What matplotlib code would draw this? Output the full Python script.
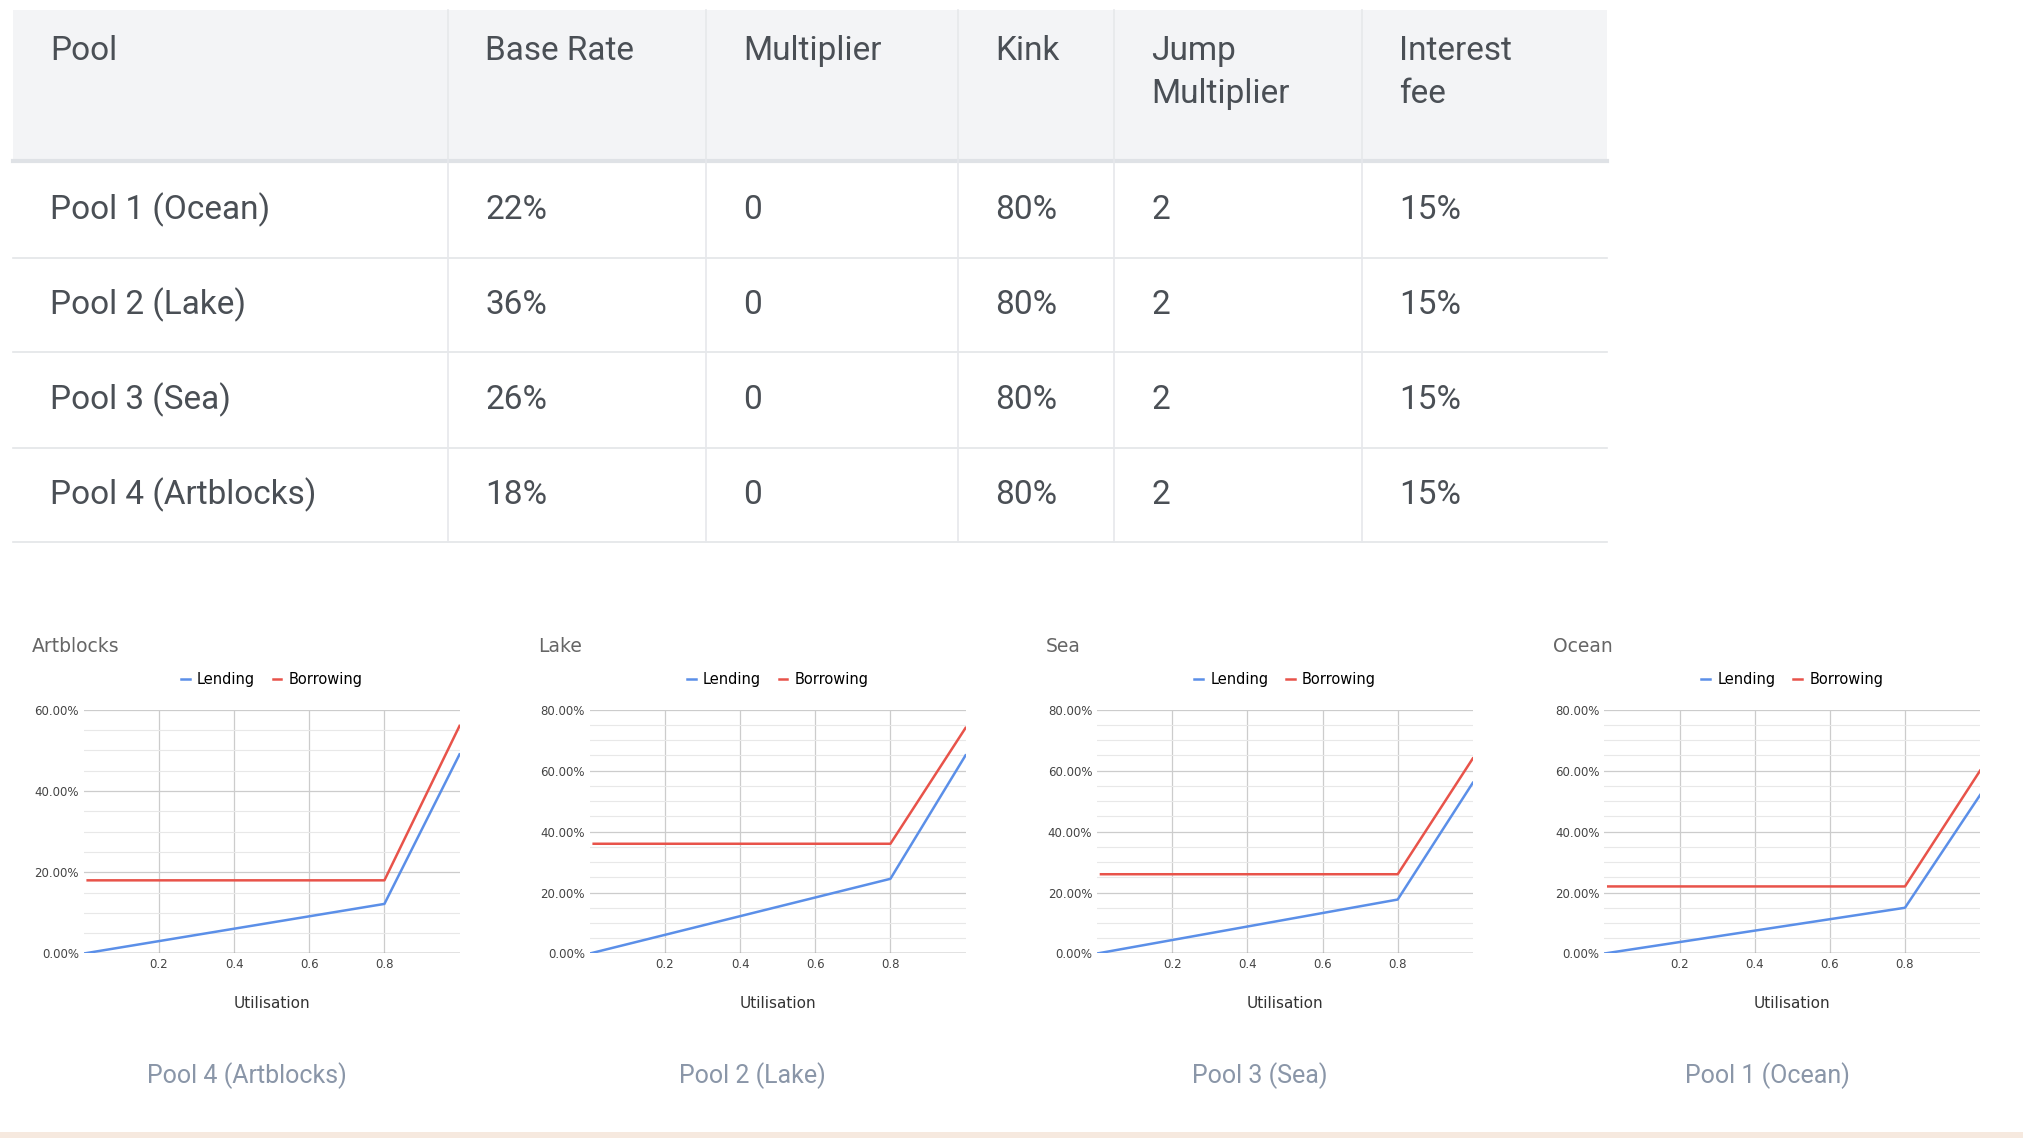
import matplotlib
matplotlib.use("Agg")
import matplotlib.pyplot as plt
from matplotlib.patches import Rectangle
from matplotlib.ticker import MultipleLocator, FuncFormatter

header = ["Pool", "Base Rate", "Multiplier", "Kink", "Jump\nMultiplier", "Interest\nfee"]
rows = [
    ["Pool 1 (Ocean)", "22%", "0", "80%", "2", "15%"],
    ["Pool 2 (Lake)", "36%", "0", "80%", "2", "15%"],
    ["Pool 3 (Sea)", "26%", "0", "80%", "2", "15%"],
    ["Pool 4 (Artblocks)", "18%", "0", "80%", "2", "15%"],
]

chart_titles = ["Artblocks", "Lake", "Sea", "Ocean"]
captions = ["Pool 4 (Artblocks)", "Pool 2 (Lake)", "Pool 3 (Sea)", "Pool 1 (Ocean)"]
util = [0.01, 0.8, 1.0]
lending = [[0, 12.2, 49], [0, 24.5, 65], [0, 17.7, 56], [0, 15, 52]]
borrowing = [[18, 18, 56], [36, 36, 74], [26, 26, 64], [22, 22, 60]]
ymax = [60, 80, 80, 80]

W, H = 1568.0, 882.0
fig = plt.figure(figsize=(20.24, 11.38), dpi=100)
fig.patch.set_facecolor("white")

def fx(px): return px / W
def fy(py): return 1 - py / H

# table
colx = [10, 347, 547, 742, 863, 1055, 1245]
rowy = [8, 125, 200, 273, 347, 420]
fig.add_artist(Rectangle((fx(10), fy(125)), fx(1245) - fx(10), fy(8) - fy(125),
                         transform=fig.transFigure, facecolor="#f3f4f6", edgecolor="none"))
fig.add_artist(plt.Line2D([fx(10), fx(1245)], [fy(125)] * 2, transform=fig.transFigure, color="#dfe2e6", lw=3))
for y in rowy[2:]:
    fig.add_artist(plt.Line2D([fx(10), fx(1245)], [fy(y)] * 2, transform=fig.transFigure, color="#e3e5e8", lw=1.2))
for x in colx[1:-1]:
    fig.add_artist(plt.Line2D([fx(x)] * 2, [fy(8), fy(420)], transform=fig.transFigure, color="#e6e8eb", lw=1.2))
tc = "#4a4f55"
for i, h in enumerate(header):
    fig.text(fx(colx[i] + 29), fy(27), h, ha="left", va="top", fontsize=24, color=tc,
             family="Roboto", linespacing=1.45)
for r, row in enumerate(rows):
    yc = (rowy[r + 1] + rowy[r + 2]) / 2
    for i, v in enumerate(row):
        fig.text(fx(colx[i] + 29), fy(yc), v, ha="left", va="center", fontsize=24, color=tc, family="Roboto")

# charts
axx = [65, 457, 850, 1243]
for k in range(4):
    x0 = axx[k]
    ax = fig.add_axes([fx(x0), fy(739), fx(291), fy(550) - fy(739)])
    ax.plot(util, borrowing[k], color="#e8534a", lw=1.8, label="Borrowing", zorder=3)
    ax.plot([0] + util[1:], lending[k], color="#5b8fe8", lw=1.8, label="Lending", zorder=3)
    ax.set_xlim(0, 1)
    ax.set_ylim(0, ymax[k])
    ax.set_xticks([0.2, 0.4, 0.6, 0.8])
    ax.yaxis.set_major_locator(MultipleLocator(20))
    ax.yaxis.set_minor_locator(MultipleLocator(5))
    ax.yaxis.set_major_formatter(FuncFormatter(lambda v, p: f"{v:.2f}%"))
    ax.xaxis.set_major_formatter(FuncFormatter(lambda v, p: f"{v:.1f}"))
    ax.grid(True, which="major", color="#cccccc", lw=0.9)
    ax.grid(True, which="minor", axis="y", color="#e8e8e8", lw=0.8)
    for s in ax.spines.values():
        s.set_visible(False)
    ax.axhline(0, color="#888888", lw=1, zorder=2)
    ax.tick_params(length=0, labelsize=8.5, colors="#444444", which="both")
    ax.set_xlabel("Utilisation", fontsize=11, color="#333333", labelpad=18)
    fig.text(fx(x0 - 40), fy(501), chart_titles[k], fontsize=13.5, color="#666666", va="center")
    h, l = ax.get_legend_handles_labels()
    ax.legend(h[::-1], l[::-1], loc="center", bbox_to_anchor=(0.5, (550 - 527) / 189 + 1), ncol=2,
              frameon=False, fontsize=10.5, handlelength=0.6, handletextpad=0.5, columnspacing=1.2)
    fig.text(fx(x0 + 126), fy(834), captions[k], ha="center", va="center", fontsize=18,
             color="#8a96a8", family="Roboto")

fig.add_artist(Rectangle((0, 0), 1, fy(877), transform=fig.transFigure, facecolor="#f6e9df", edgecolor="none"))
fig.savefig("out.png", dpi=100)
